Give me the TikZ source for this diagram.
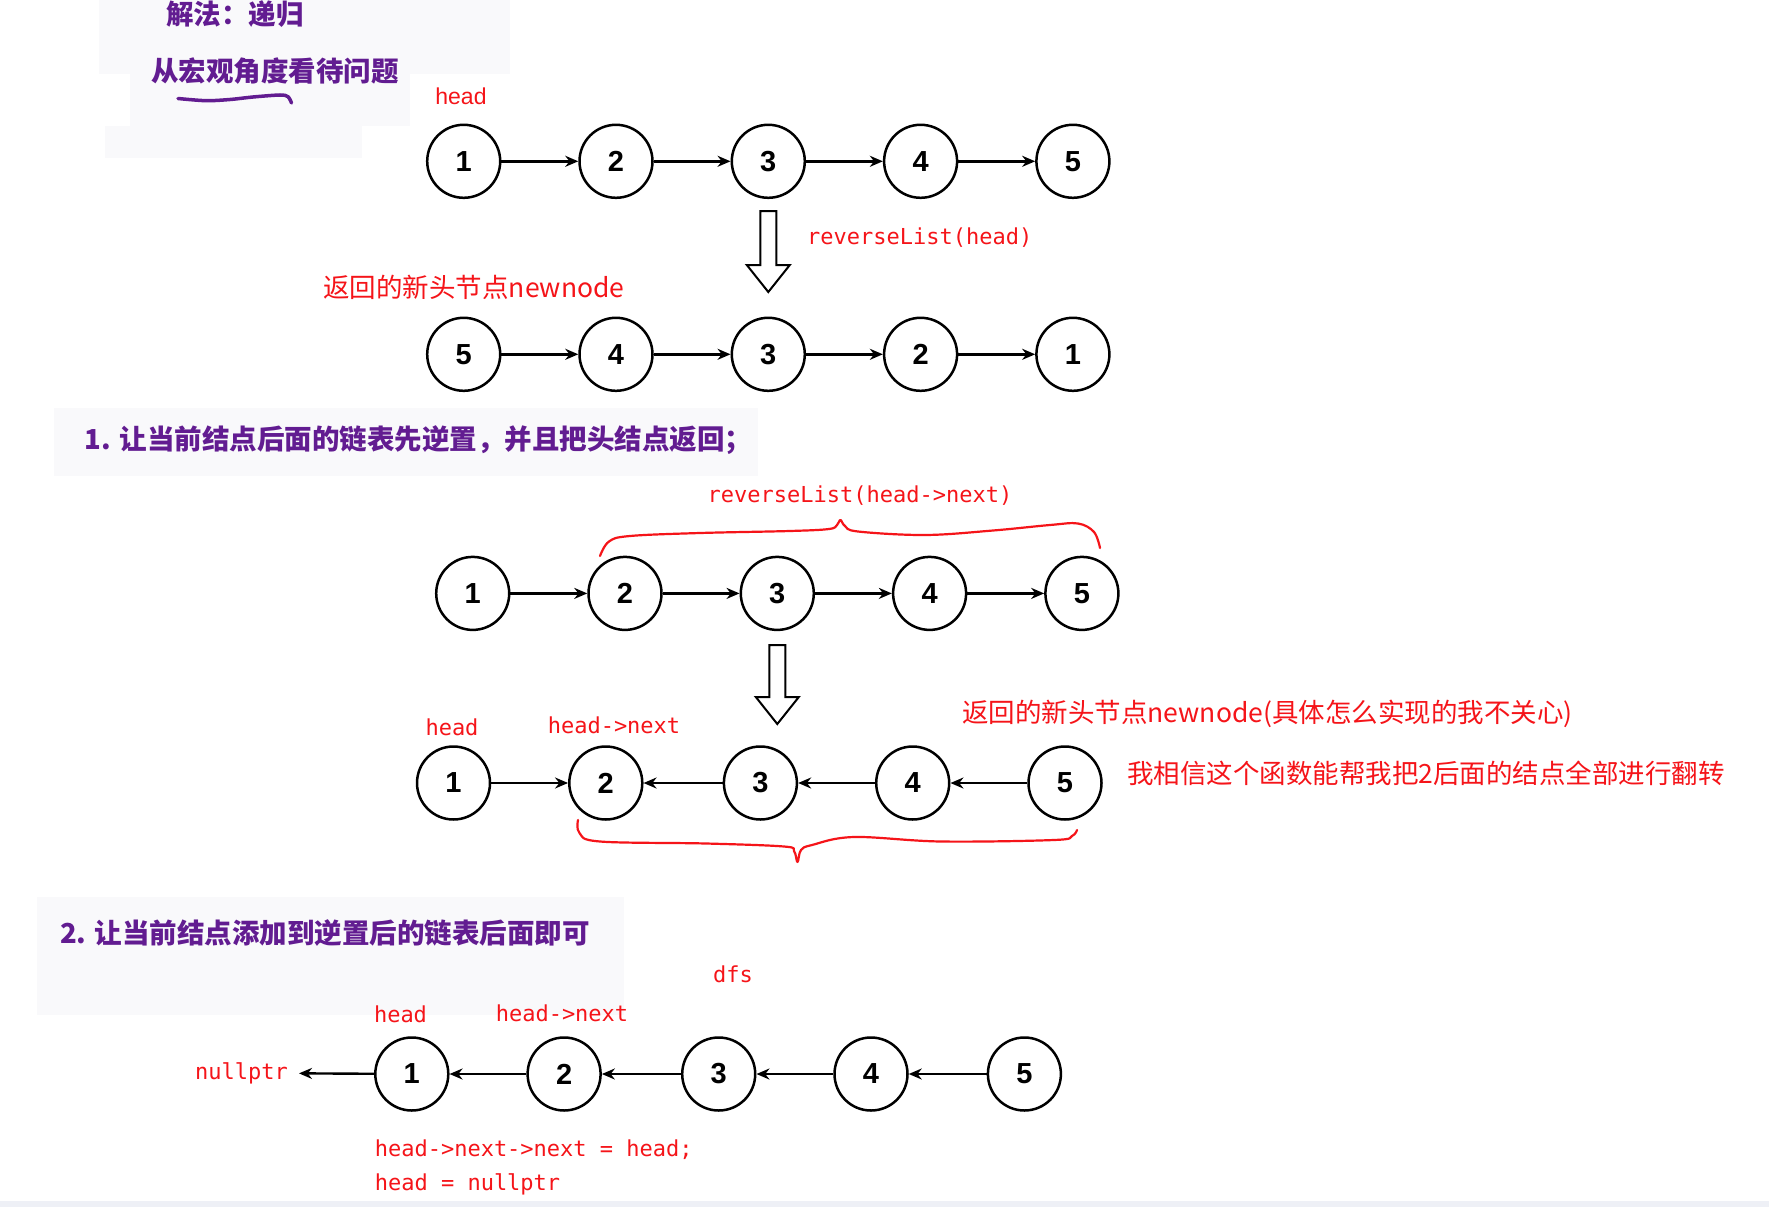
\documentclass[tikz,border=0pt]{standalone}
\usepackage{fontspec}
\usetikzlibrary{arrows.meta}
\newfontfamily\cjkf{Noto Sans CJK SC}
\newfontfamily\monof{DejaVu Sans Mono}
\newfontfamily\arialf{Liberation Sans}
\definecolor{pur}{RGB}{98,28,145}
\definecolor{rd}{RGB}{245,20,25}
\definecolor{panel}{RGB}{249,249,251}
\definecolor{band}{RGB}{238,240,246}
\begin{document}
\begin{tikzpicture}[x=1pt,y=-1pt,
 nd/.style={circle,draw=black,line width=2.5pt,minimum size=73pt,inner sep=0pt,font=\arialf\bfseries\fontsize{29}{29}\selectfont},
 arr/.style={-{Stealth[length=13pt,width=11pt]},line width=2.4pt},
 code/.style={text=rd,font=\monof\fontsize{22}{22}\selectfont,inner sep=0pt},
 sanslab/.style={text=rd,font=\arialf\fontsize{23}{23}\selectfont,inner sep=0pt},
 cn/.style={text=rd,font=\cjkf\fontsize{26.5}{27}\selectfont,inner sep=0pt},
 hd/.style={text=pur,font=\cjkf\bfseries\fontsize{27.5}{28}\selectfont,inner sep=0pt},
 bigarrow/.style={draw=black,line width=2pt,fill=white,line join=miter},
 brace/.style={draw=rd,line width=2.2pt,line cap=round,line join=round},
]
\useasboundingbox (0,0) rectangle (1769,1207);
\fill[white] (0,0) rectangle (1769,1207);
% faint panels
\fill[panel] (99,0) rectangle (510,74);
\fill[panel] (130,74) rectangle (410,126);
\fill[panel] (105,126) rectangle (362,158);
\fill[panel] (54,408) rectangle (758,476);
\fill[panel] (37,897) rectangle (624,1015);
\fill[band] (0,1201) rectangle (1769,1207);

% headings
\node[hd] (t1) at (235,14) {解法：递归};
\node[hd] (t2) at (275,71) {从宏观角度看待问题};
\draw[pur,line width=3.5pt,line cap=round] plot[smooth] coordinates {(178,98.5) (206,100.7) (230,99.5) (253,97) (280,95) (288,96.7) (291.5,103)};

% row 1
\node[sanslab] (lh1) at (461,96) {head};
\foreach \i/\x in {1/463.7,2/616,3/768.3,4/920.6,5/1072.9}
  \node[nd] (a\i) at (\x,161.3) {\i};
\foreach \i/\j in {1/2,2/3,3/4,4/5} \draw[arr] (a\i) -- (a\j);

\draw[bigarrow] (760.3,211) -- (776.3,211) -- (776.3,265) -- (789.8,265) -- (768.3,292) -- (746.8,265) -- (760.3,265) -- cycle;
\node[code,anchor=west] (rl1) at (807,238) {reverseList(head)};
\node[cn] (nh1) at (474,287) {返回的新头节点newnode};

% row 2
\foreach \i/\x/\t in {1/463.7/5,2/616/4,3/768.3/3,4/920.6/2,5/1072.9/1}
  \node[nd] (b\i) at (\x,354.3) {\t};
\foreach \i/\j in {1/2,2/3,3/4,4/5} \draw[arr] (b\i) -- (b\j);

% step 1
\node[hd,anchor=west] (s1) at (84.6,440) {1. 让当前结点后面的链表先逆置，并且把头结点返回；};
\node[code] (rl2) at (860,496) {reverseList(head->next)};
\draw[brace] plot[smooth,tension=0.6] coordinates {(600,556) (609,541.5) (630,536) (700,533) (790,531) (829,529) (837,525) (840.5,520) (845,526) (858,531.5) (925,535) (993,530.5) (1050,525) (1078,523.5) (1094,532) (1100,548)};

% row 3
\foreach \i/\x in {1/472.7,2/625,3/777.3,4/929.6,5/1081.9}
  \node[nd] (c\i) at (\x,593.4) {\i};
\foreach \i/\j in {1/2,2/3,3/4,4/5} \draw[arr] (c\i) -- (c\j);

\draw[bigarrow] (769.3,645) -- (785.3,645) -- (785.3,697) -- (798.8,697) -- (777.3,724) -- (755.8,697) -- (769.3,697) -- cycle;

% row 4
\node[code] (lh4) at (452,727) {head};
\node[code] (ln4) at (614,725) {head->next};
\node[cn,anchor=west] (nh2) at (962,714) {返回的新头节点newnode(具体怎么实现的我不关心)};
\node[cn,anchor=west] (bel) at (1127,773) {我相信这个函数能帮我把2后面的结点全部进行翻转};
\foreach \i/\x in {1/453.5,2/605.8,3/760.4,4/912.7,5/1065}
  \node[nd] (d\i) at (\x,783) {\i};
\draw[arr] (d1) -- (d2);
\draw[arr] (d3) -- (d2);
\draw[arr] (d4) -- (d3);
\draw[arr] (d5) -- (d4);
\draw[brace] plot[smooth,tension=0.6] coordinates {(578,820) (579.5,833) (600,841.5) (706,843.5) (784,846.5) (794,851) (797.5,862) (801,850) (812,845) (854,837) (941,841.5) (1054,840) (1072,836) (1077,830)};

% step 2
\node[hd,anchor=west] (s2) at (59.8,933) {2. 让当前结点添加到逆置后的链表后面即可};
\node[code] (dfs) at (733,974) {dfs};
\node[code] (lh5) at (400.5,1014) {head};
\node[code] (ln5) at (562,1013) {head->next};
\foreach \i/\x in {1/411.8,2/564.1,3/718.7,4/871,5/1024.4}
  \node[nd] (e\i) at (\x,1074) {\i};
\node[code,anchor=east] (nul) at (288,1073) {nullptr};
\draw[arr] (e2) -- (e1);
\draw[arr] (e3) -- (e2);
\draw[arr] (e4) -- (e3);
\draw[arr] (e5) -- (e4);
\draw[arr,shorten >=11pt] (e1) -- (nul);
\node[code,anchor=west] (cl1) at (374.6,1150) {head->next->next = head;};
\node[code,anchor=west] (cl2) at (374.6,1184) {head = nullptr};
\end{tikzpicture}
\end{document}
